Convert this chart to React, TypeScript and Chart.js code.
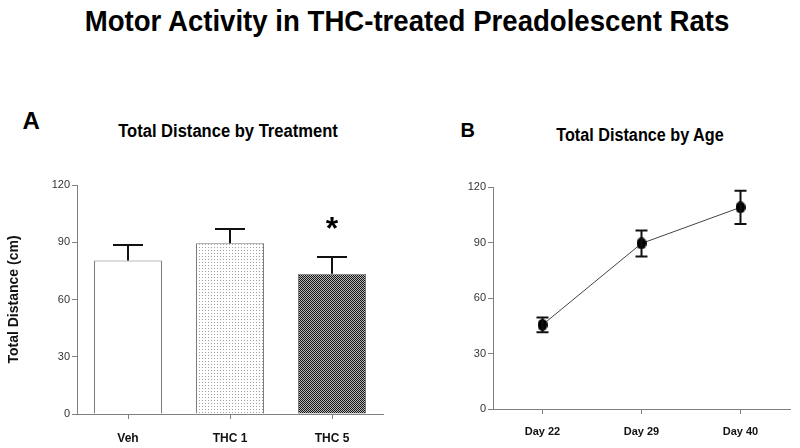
import React, { useEffect, useRef } from "react";
import { Chart, registerables } from "chart.js";

Chart.register(...registerables);

const FONT = "'Liberation Sans', Arial, Helvetica, sans-serif";
Chart.defaults.font.family = FONT;

// ---- text ----
const mainTitle = "Motor Activity in THC-treated Preadolescent Rats";
const panelALetter = "A";
const panelBLetter = "B";
const panelATitle = "Total Distance by Treatment";
const panelBTitle = "Total Distance by Age";
const yAxisTitle = "Total Distance (cm)";
const significanceMark = "*";

// ---- data ----
const treatments = ["Veh", "THC 1", "THC 5"];
const treatmentMeans = [80.5, 89.5, 73.5];
const treatmentErrors = [8, 7.5, 8.8];
const treatmentSignificant = [false, false, true];

const ages = ["Day 22", "Day 29", "Day 40"];
const ageMeans = [45.5, 89.5, 109];
const ageErrors = [4, 7, 9];

const yTicks = [0, 30, 60, 90, 120];

const AXIS = "#808080";

const errorBarPlugin = {
  id: "errorBars",
  afterDatasetsDraw(chart: any, _args: any, opts: any) {
    const { ctx } = chart;
    const yScale = chart.scales.y;
    const meta = chart.getDatasetMeta(0);
    const values = chart.data.datasets[0].data as number[];
    ctx.save();
    ctx.strokeStyle = opts.color || "#111";
    ctx.lineWidth = opts.lineWidth || 2;
    meta.data.forEach((el: any, i: number) => {
      const v = values[i];
      const e = opts.errors[i];
      const x = el.x;
      const yTop = yScale.getPixelForValue(v + e);
      const yBot = opts.both ? yScale.getPixelForValue(v - e) : yScale.getPixelForValue(v);
      const half = opts.capWidth / 2;
      ctx.beginPath();
      ctx.moveTo(x, yBot);
      ctx.lineTo(x, yTop);
      ctx.moveTo(x - half, yTop);
      ctx.lineTo(x + half, yTop);
      if (opts.both) {
        ctx.moveTo(x - half, yBot);
        ctx.lineTo(x + half, yBot);
      }
      ctx.stroke();
      if (opts.marks && opts.marks[i]) {
        ctx.fillStyle = "#000";
        ctx.font = `bold ${opts.markSize}px ${FONT}`;
        ctx.textAlign = "center";
        ctx.textBaseline = "alphabetic";
        const m = ctx.measureText(opts.markText);
        const asc = m.actualBoundingBoxAscent;
        const desc = m.actualBoundingBoxDescent;
        const cy = yTop - opts.markGap;
        const baseline = cy + (asc - desc) / 2;
        ctx.fillText(opts.markText, x, baseline);
      }
    });
    ctx.restore();
  },
};

function makePattern(size: number, draw: (c: CanvasRenderingContext2D) => void, fallback: string) {
  const tile = document.createElement("canvas");
  tile.width = size;
  tile.height = size;
  const c = tile.getContext("2d");
  if (!c) return fallback;
  draw(c);
  const main = document.createElement("canvas").getContext("2d");
  const p = main ? main.createPattern(tile, "repeat") : null;
  return p || fallback;
}

function makeEllipse(w: number, h: number) {
  const cv = document.createElement("canvas");
  cv.width = w;
  cv.height = h;
  const c = cv.getContext("2d");
  if (c) {
    c.fillStyle = "#000";
    c.beginPath();
    c.ellipse(w / 2, h / 2, w / 2, h / 2, 0, 0, Math.PI * 2);
    c.fill();
  }
  return cv;
}

function BarPanel() {
  const ref = useRef<HTMLCanvasElement | null>(null);
  useEffect(() => {
    if (!ref.current) return;
    const dots = makePattern(3, (c) => {
      c.fillStyle = "#ffffff";
      c.fillRect(0, 0, 3, 3);
      c.fillStyle = "#a0a0a0";
      c.fillRect(1, 1, 1, 1);
    }, "#eeeeee");
    const checks = makePattern(2, (c) => {
      c.fillStyle = "#b8b8b8";
      c.fillRect(0, 0, 2, 2);
      c.fillStyle = "#151515";
      c.fillRect(0, 0, 1, 1);
      c.fillRect(1, 1, 1, 1);
    }, "#5a5a5a");
    const chart = new Chart(ref.current, {
      type: "bar",
      data: {
        labels: treatments,
        datasets: [
          {
            data: treatmentMeans,
            backgroundColor: ["#ffffff", dots as any, checks as any],
            borderColor: "#7a7a7a",
            borderWidth: 1,
            barPercentage: 0.667,
            categoryPercentage: 1,
          },
        ],
      },
      options: {
        responsive: false,
        maintainAspectRatio: false,
        animation: false,
        events: [],
        layout: { padding: { top: 35, right: 17, bottom: 0, left: 0 } },
        plugins: {
          legend: { display: false },
          tooltip: { enabled: false },
          errorBars: {
            errors: treatmentErrors,
            both: false,
            capWidth: 30,
            lineWidth: 2,
            color: "#111",
            marks: treatmentSignificant,
            markText: significanceMark,
            markSize: 32,
            markGap: 34,
          },
        } as any,
        scales: {
          x: {
            offset: true,
            grid: { display: true, offset: false, drawOnChartArea: false, drawTicks: true, tickLength: 5, color: AXIS },
            border: { color: AXIS, width: 1 },
            ticks: { font: { size: 12, weight: "bold" }, color: "#111", padding: 12 },
            afterFit: (s: any) => { s.height = 34; },
          },
          y: {
            min: 0,
            max: 120,
            afterBuildTicks: (s: any) => { s.ticks = yTicks.map((v) => ({ value: v })); },
            grid: { display: true, drawOnChartArea: false, drawTicks: true, tickLength: 5, color: AXIS },
            border: { color: AXIS, width: 1 },
            ticks: { font: { size: 11 }, color: "#333", padding: 2 },
            title: {
              display: true,
              text: yAxisTitle,
              font: { size: 14, weight: "bold" },
              color: "#111",
              padding: { top: 6, bottom: 0 },
            },
            afterFit: (s: any) => { s.width = 77; },
          },
        } as any,
      },
      plugins: [errorBarPlugin as any],
    });
    return () => chart.destroy();
  }, []);
  return (
    <canvas
      ref={ref}
      width={400}
      height={298}
      style={{ position: "absolute", left: 0, top: 150, width: 400, height: 298 }}
    />
  );
}

function LinePanel() {
  const ref = useRef<HTMLCanvasElement | null>(null);
  useEffect(() => {
    if (!ref.current) return;
    const dot = makeEllipse(10, 12);
    const chart = new Chart(ref.current, {
      type: "line",
      data: {
        labels: ages,
        datasets: [
          {
            data: ageMeans,
            borderColor: "#444",
            borderWidth: 1,
            pointStyle: dot as any,
            pointRadius: 6,
            pointBackgroundColor: "#000",
            fill: false,
            tension: 0,
          },
        ],
      },
      options: {
        responsive: false,
        maintainAspectRatio: false,
        animation: false,
        events: [],
        layout: { padding: { top: 37, right: 10, bottom: 0, left: 0 } },
        plugins: {
          legend: { display: false },
          tooltip: { enabled: false },
          errorBars: {
            errors: ageErrors,
            both: true,
            capWidth: 12,
            lineWidth: 2,
            color: "#111",
          },
        } as any,
        scales: {
          x: {
            offset: true,
            grid: { display: true, offset: false, drawOnChartArea: false, drawTicks: true, tickLength: 5, color: AXIS },
            border: { color: AXIS, width: 1 },
            ticks: { font: { size: 11, weight: "bold" }, color: "#111", padding: 11 },
            afterFit: (s: any) => { s.height = 39; },
          },
          y: {
            min: 0,
            max: 120,
            afterBuildTicks: (s: any) => { s.ticks = yTicks.map((v) => ({ value: v })); },
            grid: { display: true, drawOnChartArea: false, drawTicks: true, tickLength: 5, color: AXIS },
            border: { color: AXIS, width: 1 },
            ticks: { font: { size: 11 }, color: "#333", padding: 2 },
            afterFit: (s: any) => { s.width = 93; },
          },
        } as any,
      },
      plugins: [errorBarPlugin as any],
    });
    return () => chart.destroy();
  }, []);
  return (
    <canvas
      ref={ref}
      width={400}
      height={298}
      style={{ position: "absolute", left: 400, top: 150, width: 400, height: 298 }}
    />
  );
}

// place text so that its baseline is at `baseline` (Liberation Sans metrics)
function Label(props: { text: string; cx?: number; left?: number; baseline: number; size: number; scaleX?: number }) {
  const { text, cx, left, baseline, size, scaleX = 1 } = props;
  const top = baseline - 0.8465 * size;
  const w = 760;
  const style: React.CSSProperties = {
    position: "absolute",
    top,
    fontFamily: FONT,
    fontWeight: "bold",
    fontSize: size,
    lineHeight: `${size}px`,
    color: "#000",
    whiteSpace: "nowrap",
  };
  if (cx !== undefined) {
    style.left = cx - w / 2;
    style.width = w;
    style.textAlign = "center";
    style.transform = `scaleX(${scaleX})`;
    style.transformOrigin = "center";
  } else {
    style.left = left;
  }
  return <div style={style}>{text}</div>;
}

export default function App() {
  return (
    <div
      style={{
        position: "absolute",
        left: 0,
        top: 0,
        width: 800,
        height: 448,
        background: "#fff",
        overflow: "hidden",
      }}
    >
      <Label text={mainTitle} cx={407} baseline={31.7} size={30} scaleX={0.92} />
      <Label text={panelALetter} left={22.5} baseline={129.3} size={24} />
      <Label text={panelATitle} cx={227.5} baseline={137.7} size={18} scaleX={0.92} />
      <Label text={panelBLetter} left={460.5} baseline={137.3} size={20} />
      <Label text={panelBTitle} cx={639.5} baseline={141.7} size={18} scaleX={0.9} />
      <BarPanel />
      <LinePanel />
    </div>
  );
}
